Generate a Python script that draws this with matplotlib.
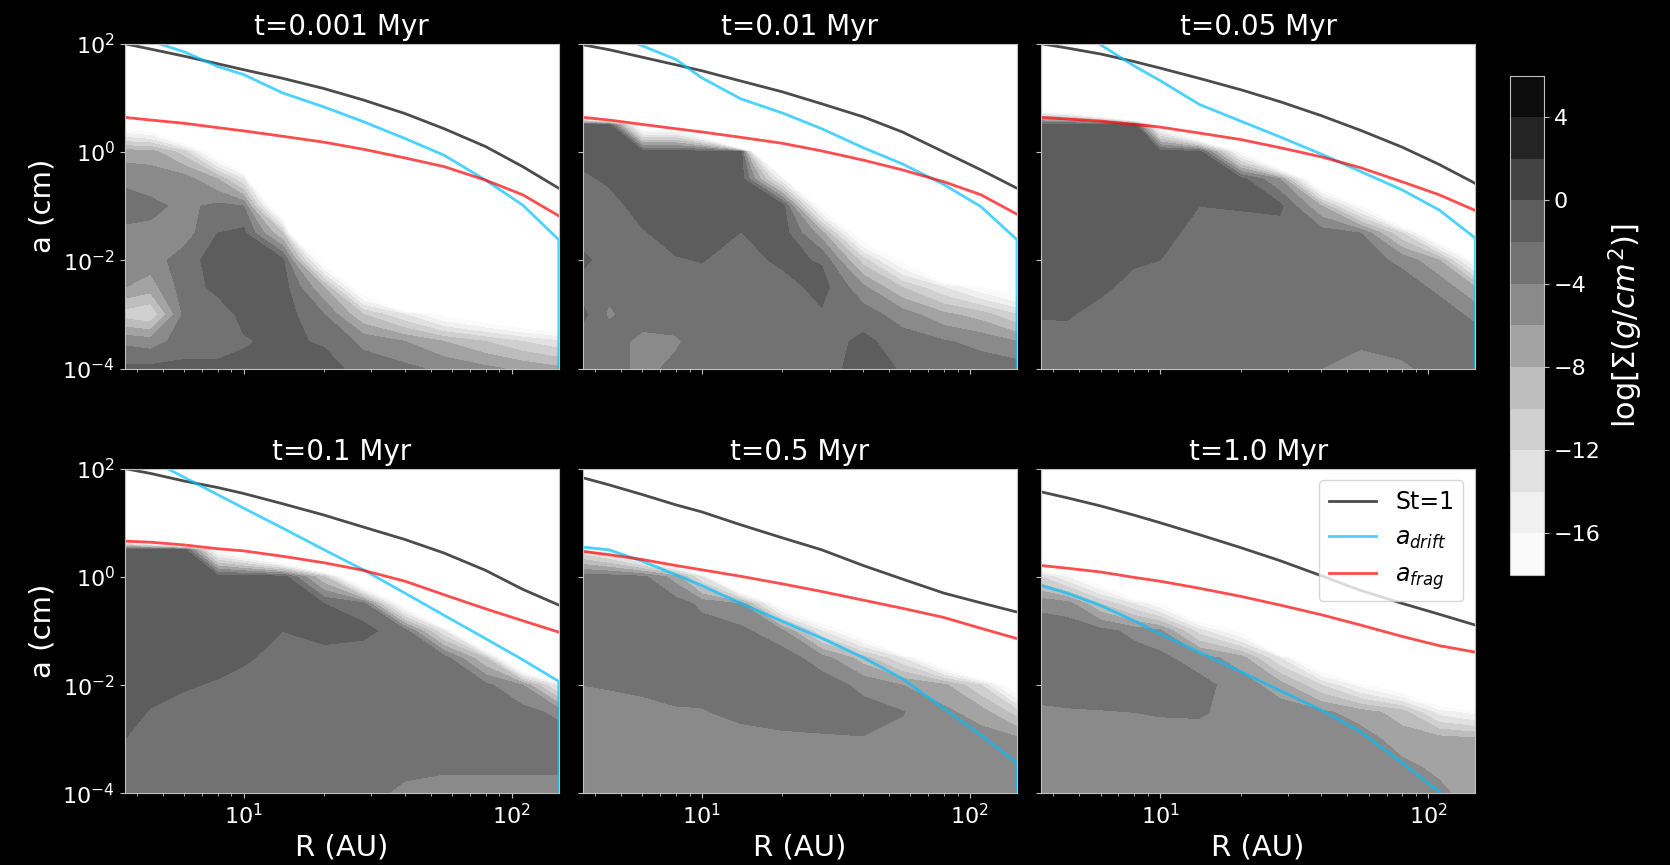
import numpy as np
import matplotlib.pyplot as plt
from matplotlib.ticker import NullLocator

# grid nodes: radius in AU, log10 of grain size in cm (top row first)
R = np.array([3.6, 4.5, 6, 8, 10, 14, 20, 28, 40, 56, 80, 110, 150])
log_a = np.array([2, 1.5, 1, 0.5, 0, -0.5, -1, -1.5, -2, -2.5, -3, -3.5, -4])

times = ['0.001', '0.01', '0.05', '0.1', '0.5', '1.0']

# log surface density of dust, one row per log_a node
sigma_0001 = [
    [-60] * 13,
    [-60] * 13,
    [-60] * 13,
    [-20, -22, -35, -60, -60, -60, -60, -60, -60, -60, -60, -60, -60],
    [-7, -7, -11, -22, -30, -60, -60, -60, -60, -60, -60, -60, -60],
    [-4.5, -5, -5, -8, -14, -60, -60, -60, -60, -60, -60, -60, -60],
    [-3, -3.5, -4.5, -3.5, -4, -25, -60, -60, -60, -60, -60, -60, -60],
    [-4.5, -4.5, -5, -2, -1.5, -10, -60, -60, -60, -60, -60, -60, -60],
    [-5, -5, -3, -1, -1, -1.5, -21, -60, -60, -60, -60, -60, -60],
    [-6, -7, -3, -1.5, -1, -1, -8, -22, -60, -60, -60, -60, -60],
    [-11, -12, -3.5, -3, -1.5, -1, -4, -10, -14, -19, -22, -25, -27],
    [-4.5, -5, -3, -3, -2.2, -1.5, -2.3, -4.5, -6, -8, -10, -12, -13.5],
    [-1.5, -1.5, -1.5, -1.5, -1.5, -1, -1, -3, -3.5, -4.5, -5.5, -6.5, -7.5],
]
sigma_001 = [
    [-60] * 13,
    [-60] * 13,
    [-72, -120, -60, -60, -60, -60, -60, -60, -60, -60, -60, -60, -60],
    [-1, -1, -22, -22, -32, -150, -60, -60, -60, -60, -60, -60, -60],
    [-1, -1, -1, -1, -1, -1, -60, -60, -60, -60, -60, -60, -60],
    [-2.5, -1.6, -1, -1, -1, -1, -16, -60, -60, -60, -60, -60, -60],
    [-3, -3, -1, -1, -1, -1, -1, -20, -60, -60, -60, -60, -60],
    [-3, -3, -2.25, -1, -1, -2.05, -1, -7, -22, -60, -60, -60, -60],
    [-1.5, -3, -3, -2.2, -1.9, -3, -1.5, -2.2, -11, -19, -40, -60, -60],
    [-3, -3.5, -3, -3, -3, -3, -3, -1.2, -5.5, -10, -14, -18, -21],
    [-1.5, -4.3, -3, -3, -3, -3, -3, -2.3, -3, -5, -7.5, -9, -12],
    [-3, -3, -4.6, -4.3, -3, -3, -3, -3, -1.5, -3, -3.8, -4.6, -6],
    [-3.5, -3, -4.6, -3.5, -3, -3, -3, -3, -1, -2.2, -3, -3, -3],
]
sigma_005 = [
    [-60] * 13,
    [-60] * 13,
    [-35, -40, -58, -120, -60, -60, -60, -60, -60, -60, -60, -60, -60],
    [-1, -1, -1, -1, -20, -40, -60, -60, -60, -60, -60, -60, -60],
    [-1, -1, -1, -1, -1, -1, -18, -40, -60, -60, -60, -60, -60],
    [-1, -1, -1, -1, -1, -1, -1.3, -6, -25, -60, -60, -60, -60],
    [-1, -1, -1, -1, -1, -2, -1.8, -1.5, -8, -18, -40, -60, -60],
    [-1, -1, -1, -1, -1, -3, -3, -3, -3, -4, -12, -24, -60],
    [-1, -1, -1, -1.6, -2, -3, -3, -3, -3, -3, -4.5, -8, -19],
    [-1, -1, -1.4, -3, -3, -3, -3, -3, -3, -3, -3, -4.5, -8],
    [-1.8, -1.7, -3, -3, -3, -3, -3, -3, -3, -3, -3, -3, -4.5],
    [-3, -3, -3, -3, -3, -3, -3, -3, -3, -3.6, -3, -3, -3],
    [-3, -3, -3, -3, -3, -3, -3, -3, -4, -5, -4.5, -3, -3],
]
sigma_01 = [
    [-60] * 13,
    [-60] * 13,
    [-58, -78, -120, -60, -60, -60, -60, -60, -60, -60, -60, -60, -60],
    [-1, -1, -1, -18.7, -23.4, -36, -60, -60, -60, -60, -60, -60, -60],
    [-1, -1, -1, -1, -1, -1, -10, -28, -60, -60, -60, -60, -60],
    [-1, -1, -1, -1, -1, -1, -2, -3, -20.4, -60, -60, -60, -60],
    [-1, -1, -1, -1, -1, -2, -1, -1.5, -3, -14, -40, -60, -60],
    [-1, -1, -1, -1, -1.6, -3, -3, -3, -3, -3, -10, -30, -40],
    [-1, -1, -1.7, -2.3, -3, -3, -3, -3, -3, -3, -3.5, -6, -15],
    [-1, -2.2, -3, -3, -3, -3, -3, -3, -3, -3, -3, -3.3, -4.5],
    [-2, -3, -3, -3, -3, -3, -3, -3, -3, -3, -3, -3, -3],
    [-3, -3, -3, -3, -3, -3, -3, -3, -3.2, -3.6, -3.6, -3.6, -3.6],
    [-3, -3, -3, -3, -3, -3, -3, -3, -4.7, -5, -5, -5, -5],
]
sigma_05 = [
    [-60] * 13,
    [-60] * 13,
    [-60] * 13,
    [-14, -17, -25, -35, -60, -60, -60, -60, -60, -60, -60, -60, -60],
    [-3, -3, -3.5, -7, -14, -35, -60, -60, -60, -60, -60, -60, -60],
    [-3, -3, -3, -3, -4.5, -6, -21, -30, -60, -60, -60, -60, -60],
    [-3, -3, -3, -3, -3, -3.5, -5.5, -14, -22, -60, -60, -60, -60],
    [-3, -3, -3, -3, -3, -3, -3, -5, -9, -14, -25, -40, -60],
    [-4, -3.8, -3.3, -3, -3, -3, -3, -3, -4.5, -6, -7.5, -12, -22],
    [-5, -5, -5, -4.3, -4.2, -3.3, -3, -3, -3.3, -3.9, -5.5, -7, -11],
    [-5, -5, -5, -5, -5, -5, -4.5, -4.3, -4.1, -4.6, -5, -5, -5.5],
    [-5] * 13,
    [-5] * 13,
]
sigma_1 = [
    [-60] * 13,
    [-60] * 13,
    [-60] * 13,
    [-35, -40, -60, -60, -60, -60, -60, -60, -60, -60, -60, -60, -60],
    [-12, -16, -22, -40, -60, -60, -60, -60, -60, -60, -60, -60, -60],
    [-4.5, -5, -10, -14, -18, -30, -60, -60, -60, -60, -60, -60, -60],
    [-3, -3, -3.3, -4.6, -5.5, -13, -19, -60, -60, -60, -60, -60, -60],
    [-3, -3, -3, -3, -3.5, -5, -7, -14, -25, -60, -60, -60, -60],
    [-3, -3, -3, -3, -3, -3.3, -5, -7, -12, -17, -22, -30, -60],
    [-4.4, -4.2, -4.1, -4, -3.8, -3.7, -5, -5, -5.5, -7, -9, -15, -17],
    [-5, -5, -5, -5, -5, -5, -5, -5, -5, -5, -7, -7, -7.5],
    [-5, -5, -5, -5, -5, -5, -5, -5, -5, -5, -5.5, -6.5, -7],
    [-5, -5, -5, -5, -5, -5, -5, -5, -5, -5, -5, -5.5, -7],
]

# log10 of St=1, drift-limited and fragmentation-limited sizes at the R nodes
st1_0001 = [2.0, 1.90, 1.77, 1.63, 1.52, 1.36, 1.17, 0.96, 0.71, 0.43, 0.10, -0.27, -0.67]
drift_0001 = [2.3, 2.05, 1.85, 1.58, 1.43, 1.09, 0.83, 0.56, 0.25, -0.06, -0.52, -0.98, -1.62]
frag_0001 = [0.64, 0.59, 0.53, 0.45, 0.39, 0.29, 0.18, 0.05, -0.11, -0.27, -0.52, -0.79, -1.18]

st1_001 = [1.98, 1.89, 1.75, 1.61, 1.50, 1.31, 1.11, 0.89, 0.65, 0.37, 0.00, -0.33, -0.67]
drift_001 = [2.5, 2.21, 1.96, 1.71, 1.37, 0.98, 0.72, 0.43, 0.08, -0.22, -0.60, -1.01, -1.62]
frag_001 = [0.64, 0.59, 0.51, 0.43, 0.37, 0.27, 0.16, 0.02, -0.15, -0.33, -0.55, -0.79, -1.15]

st1_005 = [2.0, 1.92, 1.81, 1.67, 1.55, 1.36, 1.15, 0.93, 0.67, 0.40, 0.09, -0.23, -0.58]
drift_005 = [2.7, 2.37, 1.98, 1.59, 1.32, 0.88, 0.57, 0.28, -0.04, -0.36, -0.70, -1.07, -1.59]
frag_005 = [0.64, 0.61, 0.57, 0.51, 0.46, 0.35, 0.23, 0.08, -0.09, -0.29, -0.55, -0.79, -1.08]

st1_01 = [2.0, 1.91, 1.77, 1.65, 1.54, 1.35, 1.14, 0.92, 0.69, 0.44, 0.12, -0.23, -0.52]
drift_01 = [2.45, 2.16, 1.84, 1.52, 1.27, 0.90, 0.50, 0.13, -0.30, -0.71, -1.14, -1.53, -1.93]
frag_01 = [0.66, 0.64, 0.59, 0.52, 0.48, 0.38, 0.26, 0.12, -0.08, -0.33, -0.59, -0.81, -1.02]

st1_05 = [1.83, 1.70, 1.52, 1.33, 1.20, 0.96, 0.72, 0.50, 0.21, -0.04, -0.30, -0.48, -0.65]
drift_05 = [0.55, 0.50, 0.29, 0.04, -0.16, -0.49, -0.82, -1.13, -1.49, -1.88, -2.43, -2.92, -3.44]
frag_05 = [0.47, 0.41, 0.32, 0.21, 0.13, 0.01, -0.13, -0.27, -0.43, -0.58, -0.75, -0.95, -1.14]

st1_1 = [1.57, 1.46, 1.31, 1.14, 1.00, 0.78, 0.54, 0.30, 0.02, -0.25, -0.49, -0.69, -0.89]
drift_1 = [-0.16, -0.30, -0.53, -0.81, -1.05, -1.39, -1.75, -2.10, -2.46, -2.86, -3.43, -3.97, -4.46]
frag_1 = [0.21, 0.16, 0.09, -0.01, -0.08, -0.21, -0.36, -0.52, -0.70, -0.89, -1.10, -1.27, -1.39]

# drift limit falls off at the outer edge of the disc
drift_edge = [-6, -6, -6, -6, -6, None]

sigmas = [sigma_0001, sigma_001, sigma_005, sigma_01, sigma_05, sigma_1]
st1s = [st1_0001, st1_001, st1_005, st1_01, st1_05, st1_1]
drifts = [drift_0001, drift_001, drift_005, drift_01, drift_05, drift_1]
frags = [frag_0001, frag_001, frag_005, frag_01, frag_05, frag_1]

levels = np.arange(-18, 7, 2)

fig, axes = plt.subplots(2, 3, figsize=(16.7, 8.65), dpi=100, sharex=True, sharey=True)
fig.patch.set_facecolor('black')
fig.subplots_adjust(left=0.0746, right=0.8834, bottom=0.0827, top=0.9495,
                    wspace=0.0554, hspace=0.3077)

for i, ax in enumerate(axes.flat):
    ax.set_xscale('log')
    ax.set_yscale('log')
    # contour in log10 space so the bands follow the log axes
    to_log = ax.transScale.inverted() + ax.transData
    cs = ax.contourf(np.log10(R), log_a, np.array(sigmas[i]), levels=levels,
                     cmap='Greys', transform=to_log)

    rd = list(R)
    ad = list(drifts[i])
    if drift_edge[i] is not None:
        rd.append(R[-1])
        ad.append(drift_edge[i])
    ax.plot(R, 10.0**np.array(st1s[i]), color='k', alpha=0.7, lw=2, label='St=1')
    ax.plot(rd, 10.0**np.array(ad), color='deepskyblue', alpha=0.7, lw=2, label=r'$a_{drift}$')
    ax.plot(R, 10.0**np.array(frags[i]), color='r', alpha=0.7, lw=2, label=r'$a_{frag}$')

    ax.set_xlim(R[0], R[-1])
    ax.set_ylim(1e-4, 1e2)
    ax.set_yticks([1e-4, 1e-2, 1e0, 1e2])
    ax.yaxis.set_minor_locator(NullLocator())
    ax.set_title(f't={times[i]} Myr', color='white', fontsize=20)
    for sp in ax.spines.values():
        sp.set_edgecolor('silver')
    ax.tick_params(which='both', color='silver', labelcolor='white', labelsize=16)

for ax in axes[1]:
    ax.set_xlabel('R (AU)', color='white', fontsize=21)
for ax in axes[:, 0]:
    ax.set_ylabel('a (cm)', color='white', fontsize=21)

axes[1, 2].legend(loc='upper right', fontsize=17)

cax = fig.add_axes([0.9042, 0.3353, 0.0204, 0.5773])
cb = fig.colorbar(cs, cax=cax, ticks=np.arange(-16, 5, 4))
cb.outline.set_edgecolor('silver')
cax.tick_params(color='silver', labelcolor='white', labelsize=16)
cb.set_label(r'$\log[\Sigma(g/cm^2)]$', color='white', fontsize=22)

fig.savefig('out.png', facecolor='black')
